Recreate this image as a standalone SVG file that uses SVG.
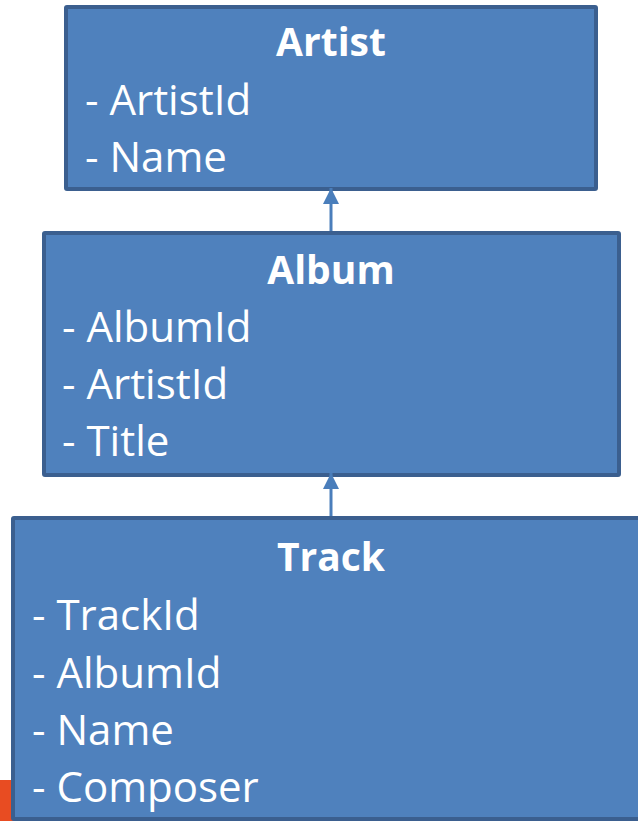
<svg xmlns="http://www.w3.org/2000/svg" width="638" height="821" viewBox="0 0 638 821">
<style>
.box{fill:#4f81bd;stroke:#3b5f8f;stroke-width:4}
.t{font-family:"Open Sans","Liberation Sans",sans-serif;font-size:42px;fill:#fff}
.h{font-weight:bold;text-anchor:middle;font-size:39px}
.c{stroke:#4a7ebb;stroke-width:3;fill:none}
</style>
<defs>
<marker id="ah" viewBox="0 0 16 16" refX="16" refY="8" markerWidth="16" markerHeight="16" markerUnits="userSpaceOnUse" orient="auto">
<path d="M0,0 L16,8 L0,16 Z" fill="#4a7ebb"/>
</marker>
</defs>
<rect x="0" y="780" width="14" height="41" fill="#e84c22"/>
<g id="artist">
<rect class="box" x="66" y="7" width="530" height="182" rx="1"/>
<text class="t h" x="331" y="56">Artist</text>
<text class="t" x="85" y="115">- ArtistId</text>
<text class="t" x="85" y="172">- Name</text>
</g>
<g id="album">
<rect class="box" x="44" y="233" width="575" height="242" rx="1"/>
<text class="t h" x="331" y="284">Album</text>
<text class="t" x="62" y="342">- AlbumId</text>
<text class="t" x="62" y="399">- ArtistId</text>
<text class="t" x="62" y="456">- Title</text>
</g>
<g id="track">
<rect class="box" x="13" y="518" width="640" height="301" rx="1"/>
<text class="t h" x="331" y="571">Track</text>
<text class="t" x="32" y="630">- TrackId</text>
<text class="t" x="32" y="688">- AlbumId</text>
<text class="t" x="32" y="745">- Name</text>
<text class="t" x="32" y="802">- Composer</text>
</g>
<g id="connectors">
<line class="c" x1="331" y1="516" x2="331" y2="473" marker-end="url(#ah)"/>
<line class="c" x1="331" y1="231" x2="331" y2="188" marker-end="url(#ah)"/>
</g>
</svg>
